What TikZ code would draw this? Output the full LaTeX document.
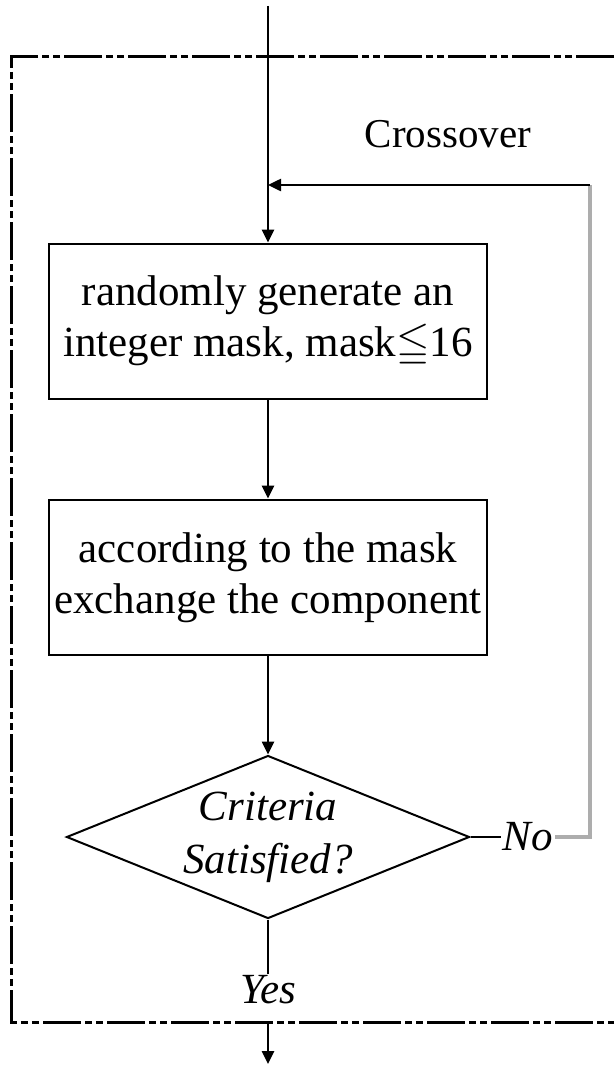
\documentclass[tikz,border=0pt]{standalone}
\usepackage{fontspec}
\usepackage{amssymb}
\setmainfont{Liberation Serif}
\usetikzlibrary{arrows.meta,shapes.geometric}

\tikzset{
  procbox/.style={draw, line width=2.8pt, minimum width=438pt, minimum height=155pt,
                  align=center, inner sep=0pt, font=\fontsize{43}{51}\selectfont},
  decision/.style={draw, diamond, line width=2pt, minimum width=403pt,
                   minimum height=163pt, inner sep=0pt},
  decisiontext/.style={align=center, font=\fontsize{43}{53}\selectfont\itshape},
  answer/.style={font=\fontsize{43}{48}\selectfont\itshape, inner sep=2pt},
  flow/.style={line width=2.5pt, -{Triangle[length=13pt,width=12pt]}},
  plainline/.style={line width=2.5pt},
  backline/.style={line width=4pt, draw=black!32},
  frame/.style={line width=3pt,
                dash pattern={on 38pt off 4pt on 7pt off 4pt on 7pt off 4pt}},
}

\begin{document}
\begin{tikzpicture}[x=1pt,y=-1pt]
  \useasboundingbox (0,0) rectangle (614,1065);

  % enclosing dash-dot frame (open on the right)
  \draw[frame] (614,57) -- (11,57) -- (11,1022) -- (614,1022);

  \node[font=\fontsize{41}{48}\selectfont] (title) at (448,134) {Crossover};

  \coordinate (entry) at (268,6);
  \coordinate (join) at (268,185);
  \coordinate (corner) at (590,185);
  \coordinate (turn) at (590,837);
  \coordinate (exitA) at (268,1022);
  \coordinate (exitB) at (268,1064);

  \node[procbox] (gen) at (268,321.5)
    {randomly generate an\\integer mask, mask$\leqq$16};
  \node[procbox] (swap) at (268,577.5)
    {according to the mask\\exchange the component};
  \node[decision] (dec) at (268,837) {};
  \node[decisiontext] (dectext) at (dec.center) {Criteria\\Satisfied?};

  \node[answer] (no) at (528,837) {No};
  \node[answer] (yes) at (268,990) {Yes};

  % main flow
  \draw[flow] (entry) -- (gen.north);
  \draw[flow] (gen.south) -- (swap.north);
  \draw[flow] (swap.south) -- (dec.north);
  \draw[plainline] (dec.south) -- (yes.north);
  \draw[flow] (exitA) -- (exitB);

  % loop back when the criteria are not met
  \draw[plainline] (dec.east) -- (no.west);
  \draw[backline] (no.east) -- (turn) -- (corner);
  \draw[flow] (corner) -- (join);
\end{tikzpicture}
\end{document}
